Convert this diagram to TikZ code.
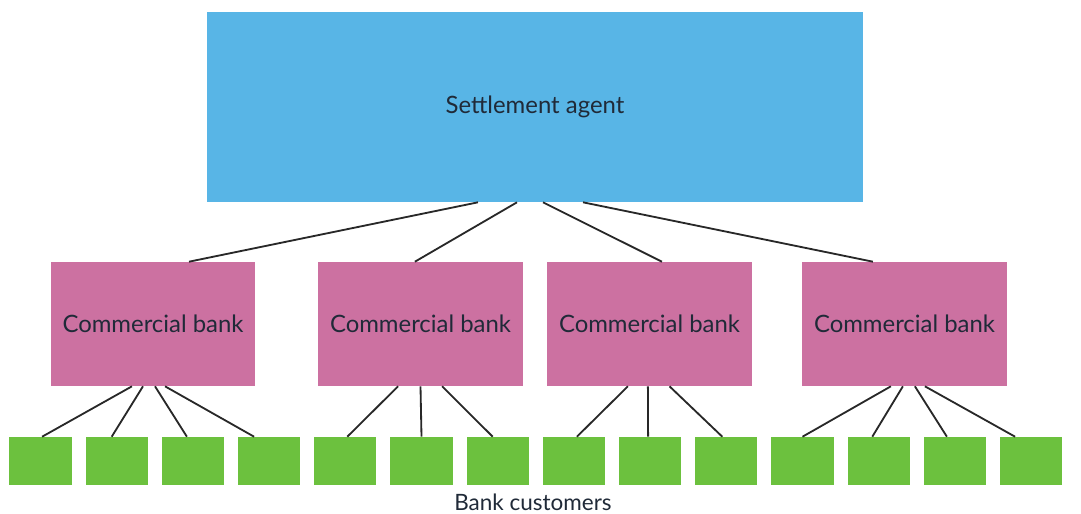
\documentclass[tikz,border=0pt]{standalone}
\usepackage{fontspec}
\setmainfont{Lato}
\usepackage{tikz}
\usetikzlibrary{positioning}
\definecolor{agentblue}{RGB}{88,181,230}
\definecolor{bankpink}{RGB}{204,113,161}
\definecolor{custgreen}{RGB}{108,193,62}
\definecolor{inkdark}{RGB}{32,42,56}
\definecolor{wire}{RGB}{40,40,40}
\tikzset{
  agentbox/.style={fill=agentblue, minimum width=16.4cm, minimum height=4.75cm, text=inkdark, font=\fontsize{17}{20}\selectfont},
  bankbox/.style={fill=bankpink, minimum width=5.1cm, minimum height=3.1cm, text=inkdark, font=\fontsize{17}{20}\selectfont},
  custbox/.style={fill=custgreen, minimum width=1.55cm, minimum height=1.2cm},
  link/.style={wire, line width=1.3pt}
}
\begin{document}
\begin{tikzpicture}[x=0.025cm,y=-0.025cm]
    \useasboundingbox (0,0) rectangle (1081,514);
    % top level
    \node[agentbox] (agent) at (535,107) {Settlement agent};
    % banks
    \node[bankbox] (bank1) at (153,324) {Commercial bank};
    \node[bankbox] (bank2) at (420.5,324) {Commercial bank};
    \node[bankbox] (bank3) at (649.5,324) {Commercial bank};
    \node[bankbox] (bank4) at (904.5,324) {Commercial bank};
    % customers
    \foreach \i in {1,...,14} {
      \node[custbox] (cust\i) at ({40.5+76.2*(\i-1)},461) {};
    }
    \node[text=inkdark, font=\fontsize{16}{19}\selectfont] (custlabel) at (533,502) {Bank customers};

    \draw[link] ([xshift=-1.425cm]agent.south) -- ([xshift=0.9cm]bank1.north);
    \draw[link] ([xshift=-0.45cm]agent.south) -- ([xshift=-0.14cm]bank2.north);
    \draw[link] ([xshift=0.2cm]agent.south) -- ([xshift=0.31cm]bank3.north);
    \draw[link] ([xshift=1.2cm]agent.south) -- ([xshift=-0.79cm]bank4.north);

    \draw[link] ([xshift=-0.525cm]bank1.south) -- ([xshift=0.04cm]cust1.north);
    \draw[link] ([xshift=-0.25cm]bank1.south) -- ([xshift=-0.125cm]cust2.north);
    \draw[link] ([xshift=0.05cm]bank1.south) -- ([xshift=-0.15cm]cust3.north);
    \draw[link] ([xshift=0.3cm]bank1.south) -- ([xshift=-0.375cm]cust4.north);

    \draw[link] ([xshift=-0.56cm]bank2.south) -- ([xshift=0.05cm]cust5.north);
    \draw[link] (bank2.south) -- (cust6.north);
    \draw[link] ([xshift=0.54cm]bank2.south) -- ([xshift=-0.125cm]cust7.north);

    \draw[link] ([xshift=-0.54cm]bank3.south) -- ([xshift=0.075cm]cust8.north);
    \draw[link] ([xshift=-0.04cm]bank3.south) -- ([xshift=-0.05cm]cust9.north);
    \draw[link] ([xshift=0.5cm]bank3.south) -- ([xshift=-0.1cm]cust10.north);

    \draw[link] ([xshift=-0.34cm]bank4.south) -- (cust11.north);
    \draw[link] ([xshift=-0.04cm]bank4.south) -- ([xshift=-0.16cm]cust12.north);
    \draw[link] ([xshift=0.26cm]bank4.south) -- ([xshift=-0.2cm]cust13.north);
    \draw[link] ([xshift=0.51cm]bank4.south) -- ([xshift=-0.4cm]cust14.north);
\end{tikzpicture}
\end{document}
